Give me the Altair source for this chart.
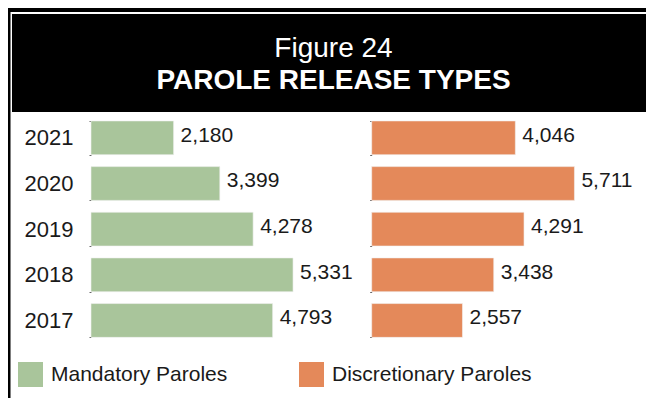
import altair as alt
import pandas as pd

# ---- data ----
years = ["2021", "2020", "2019", "2018", "2017"]
mandatory = [2180, 3399, 4278, 5331, 4793]
discretionary = [4046, 5711, 4291, 3438, 2557]
series_names = ["Mandatory Paroles", "Discretionary Paroles"]
series_colors = ["#A9C59B", "#E4895A"]
title_lines = ["Figure 24", "PAROLE RELEASE TYPES"]

FONT = "Liberation Sans"
W, H = 638, 390

df_m = pd.DataFrame({"year": years, "value": mandatory, "type": series_names[0]})
df_d = pd.DataFrame({"year": years, "value": discretionary, "type": series_names[1]})

color = alt.Color(
    "type:N",
    scale=alt.Scale(domain=series_names, range=series_colors),
    legend=alt.Legend(
        title=None, orient="none", legendX=10, legendY=354, direction="horizontal",
        symbolType="square", symbolSize=625, symbolStrokeWidth=0, symbolOpacity=1,
        labelFont=FONT, labelFontSize=21, labelColor="#1a1a1a", labelLimit=0,
        labelOffset=8, columnPadding=71, padding=0,
    ),
)


def yscale():
    return alt.Scale(domain=years, range=[107, 335.3], paddingInner=0.26, paddingOuter=0.13)


def panel(df, dom, rng, offset, show_labels):
    xs = alt.Scale(domain=dom, range=rng)
    axis = alt.Axis(
        orient="left", offset=offset, domain=False, grid=False, ticks=True, tickSize=2,
        tickColor="#666666", tickWidth=1, tickBand="extent", labels=show_labels,
        labelFont=FONT, labelFontSize=22, labelColor="#1a1a1a", labelPadding=16, title=None,
    )
    bars = alt.Chart(df).mark_bar(stroke="#f2f2f2", strokeWidth=0.6).encode(
        x=alt.X("value:Q", scale=xs, axis=None),
        y=alt.Y("year:N", scale=yscale(), sort=years, axis=axis),
        color=color,
    )
    labels = alt.Chart(df).mark_text(
        align="left", baseline="middle", dx=7, dy=-2, font=FONT, fontSize=21, color="#1a1a1a"
    ).encode(
        x=alt.X("value:Q", scale=xs, axis=None),
        y=alt.Y("year:N", scale=yscale(), sort=years, axis=None),
        text=alt.Text("value:Q", format=","),
    )
    return bars, labels


lb, ll = panel(df_m, [0, 6000], [83, 310.4], -83, True)
rb, rl = panel(df_d, [0, 7000], [363.7, 612.2], -363.7, False)

one = pd.DataFrame({"k": [0]})


def box(x1, x2, y1, y2, c="black"):
    return alt.Chart(one).mark_rect(color=c).encode(
        x=alt.value(x1), x2=alt.value(x2), y=alt.value(y1), y2=alt.value(y2)
    )


left_border = box(0, 2.5, 0, H)
top_border = box(0, W, 0, 4)
header = box(4, W, 6, 104)

t1 = alt.Chart(pd.DataFrame({"t": [title_lines[0]]})).mark_text(
    font=FONT, fontSize=28, color="white", align="center", baseline="alphabetic"
).encode(text="t:N", x=alt.value(325.5), y=alt.value(49))
t2 = alt.Chart(pd.DataFrame({"t": [title_lines[1]]})).mark_text(
    font=FONT, fontSize=28, fontWeight="bold", color="white", align="center", baseline="alphabetic"
).encode(text="t:N", x=alt.value(325.5), y=alt.value(81))

chart = alt.layer(
    left_border, top_border, header, t1, t2, lb, ll, rb, rl
).resolve_scale(
    x="independent", y="independent"
).properties(
    width=W, height=H, padding=0,
    autosize=alt.AutoSizeParams(type="none"),
    background="white",
).configure_view(stroke=None)

chart.save("out.html", embed_options={"renderer": "svg", "actions": False})
